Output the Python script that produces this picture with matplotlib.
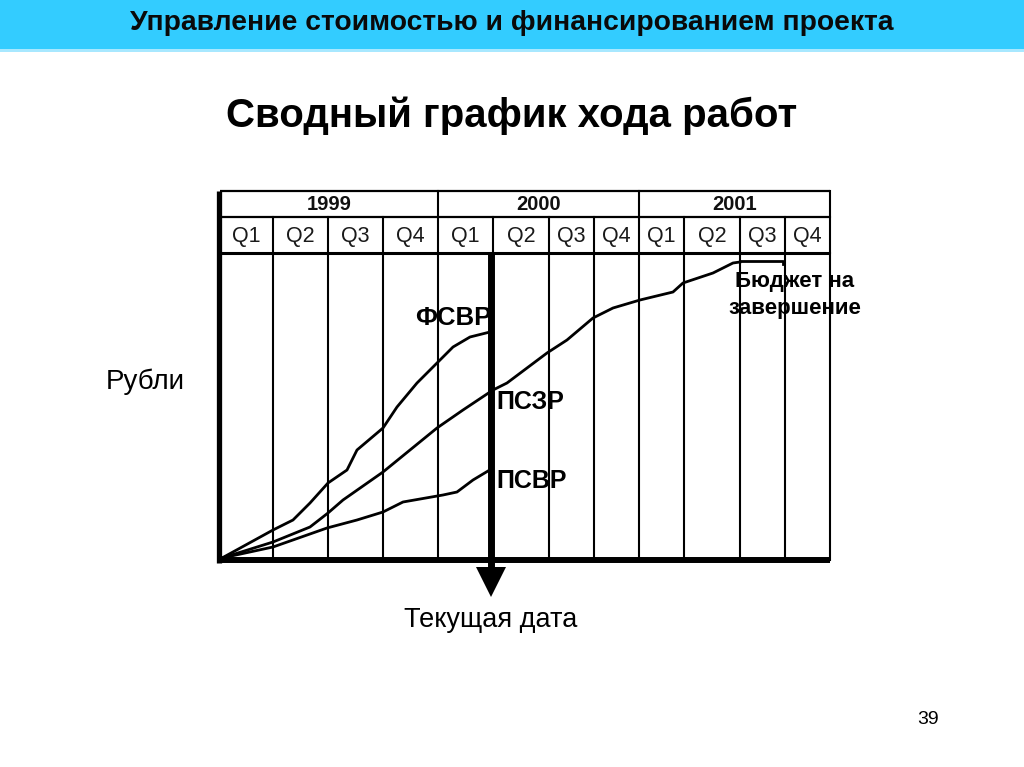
import matplotlib
matplotlib.use("Agg")
import matplotlib.pyplot as plt
import matplotlib.transforms as mtransforms
from matplotlib.patches import Rectangle

plt.rcParams['font.family'] = ['Liberation Sans', 'DejaVu Sans']

# ---------------- data ----------------
header_title = "Управление стоимостью и финансированием проекта"
chart_title = "Сводный график хода работ"
years = ["1999", "2000", "2001"]
quarters = ["Q1", "Q2", "Q3", "Q4"] * 3
# time axis (arbitrary units); edges of the 12 quarters
quarter_edges = [0, 53, 108, 163, 218, 273, 329, 374, 419, 464, 520, 565, 610]
current_date = 271

# ФСВР (actual cost of work performed)
fsvr_t = [2, 53, 73, 90, 108, 127, 137, 163, 177, 197, 217, 233, 250, 270]
fsvr_v = [2, 30, 40, 57, 77, 90, 110, 132, 153, 177, 197, 213, 223, 228]
# ПСЗР (planned cost of scheduled work)
pszr_t = [2, 53, 90, 108, 123, 163, 190, 217, 243, 273, 287, 327, 347, 373,
          393, 420, 453, 463, 493, 513, 520]
pszr_v = [2, 18, 33, 47, 60, 88, 110, 132, 150, 170, 177, 207, 220, 242,
          252, 260, 268, 277, 287, 297, 298]
# ПСВР (planned cost of work performed)
psvr_t = [2, 53, 107, 137, 163, 183, 223, 237, 253, 268]
psvr_v = [2, 13, 32, 40, 48, 58, 65, 68, 80, 89]
# Бюджет на завершение
bac_t = [520, 563, 563]
bac_v = [299, 299, 296]

y_max = 307

# ---------------- figure ----------------
W, H = 1024, 767
fig = plt.figure(figsize=(W / 100, H / 100), dpi=100)
fig.patch.set_facecolor("white")

# header bar
fig.patches.append(Rectangle((0, 1 - 49 / H), 1, 49 / H, transform=fig.transFigure,
                             facecolor="#33CCFF", edgecolor="none", zorder=0))
fig.patches.append(Rectangle((0, 1 - 52 / H), 1, 3 / H, transform=fig.transFigure,
                             facecolor="#A8E8FF", edgecolor="none", zorder=0))
fig.text(512 / W, 1 - 23 / H, header_title, ha="center", va="center",
         fontsize=20.3, fontweight="bold", color="#0a0a0a")
fig.text(512 / W, 1 - 116 / H, chart_title, ha="center", va="center",
         fontsize=29, fontweight="bold", color="black")

x0, x1 = 220, 830
ax = fig.add_axes([x0 / W, 1 - 560 / H, (x1 - x0) / W, (560 - 253) / H])
ax.set_xlim(quarter_edges[0], quarter_edges[-1])
ax.set_ylim(0, y_max)
ax.axis("off")

# header axes: quarter row and year row
axq = fig.add_axes([x0 / W, 1 - 253 / H, (x1 - x0) / W, 36 / H])
axy = fig.add_axes([x0 / W, 1 - 217 / H, (x1 - x0) / W, 26 / H])
for a in (axq, axy):
    a.set_xlim(quarter_edges[0], quarter_edges[-1])
    a.set_ylim(0, 1)
    a.axis("off")

thin = 1.5
# horizontal header lines
axy.plot([quarter_edges[0], quarter_edges[-1]], [1, 1], color="black", lw=1.6,
         clip_on=False, solid_capstyle="butt")
axy.plot([quarter_edges[0], quarter_edges[-1]], [0, 0], color="black", lw=1.6,
         clip_on=False, solid_capstyle="butt")
axq.plot([quarter_edges[0], quarter_edges[-1]], [0, 0], color="black", lw=2.2,
         clip_on=False, solid_capstyle="butt")

# year labels and boundaries
for i, yr in enumerate(years):
    a_, b_ = quarter_edges[4 * i], quarter_edges[4 * i + 4]
    axy.text((a_ + b_) / 2, 0.5, yr, ha="center", va="center", fontsize=14.5,
             fontweight="bold", color="#111111")
    if i > 0:
        axy.plot([a_, a_], [0, 1], color="black", lw=thin, clip_on=False)

# quarter labels and vertical grid lines
for i, q in enumerate(quarters):
    a_, b_ = quarter_edges[i], quarter_edges[i + 1]
    axq.text((a_ + b_) / 2, 0.47, q, ha="center", va="center", fontsize=15.5,
             color="#1a1a1a")
for e in quarter_edges[1:]:
    axq.plot([e, e], [0, 1], color="black", lw=thin, clip_on=False)
    ax.plot([e, e], [0, y_max], color="black", lw=thin, clip_on=False)

# right border in year row too
axy.plot([quarter_edges[-1]] * 2, [0, 1], color="black", lw=thin, clip_on=False)

# thick left border (whole height) and bottom axis
left_tr = mtransforms.blended_transform_factory(ax.transData, fig.transFigure)
ax.plot([quarter_edges[0] - 1] * 2, [1 - 563 / H, 1 - 191 / H], transform=left_tr,
        color="black", lw=3.8, clip_on=False, solid_capstyle="butt")
ax.plot([quarter_edges[0] - 2, quarter_edges[-1]], [0, 0], color="black", lw=4.3,
        clip_on=False, solid_capstyle="butt")

# curves
lw_c = 2.0
ax.plot(fsvr_t, fsvr_v, color="black", lw=lw_c, clip_on=False)
ax.plot(pszr_t, pszr_v, color="black", lw=lw_c, clip_on=False)
ax.plot(psvr_t, psvr_v, color="black", lw=lw_c, clip_on=False)
ax.plot(bac_t, bac_v, color="black", lw=lw_c, clip_on=False)

# current date line with arrow
ax.plot([current_date, current_date], [y_max, -8], color="black", lw=5,
        clip_on=False, solid_capstyle="butt", zorder=5)
ax.plot([current_date], [-22], marker="v", markersize=21, color="black",
        markeredgewidth=0, clip_on=False, zorder=5)
ax.text(current_date, -60, "Текущая дата", ha="center", va="center",
        fontsize=19.5, color="black", clip_on=False)

# series labels
ax.text(272, 242, "ФСВР", ha="right", va="center", fontsize=18.5,
        fontweight="bold", color="black", zorder=6)
ax.text(276, 158, "ПСЗР", ha="left", va="center", fontsize=18,
        fontweight="bold", color="black", zorder=6)
ax.text(276, 79, "ПСВР", ha="left", va="center", fontsize=18,
        fontweight="bold", color="black", zorder=6)
ax.text(575, 265, "Бюджет на\nзавершение", ha="center", va="center",
        fontsize=16, fontweight="bold", color="black", zorder=6,
        linespacing=1.32)

# axis label
fig.text(145 / W, 1 - 382 / H, "Рубли", ha="center", va="center",
         fontsize=20, color="black")

# page number
fig.text(928 / W, 1 - 720 / H, "39", ha="center", va="center",
         fontsize=14, color="black")

fig.savefig("out.png", dpi=100, facecolor="white")
